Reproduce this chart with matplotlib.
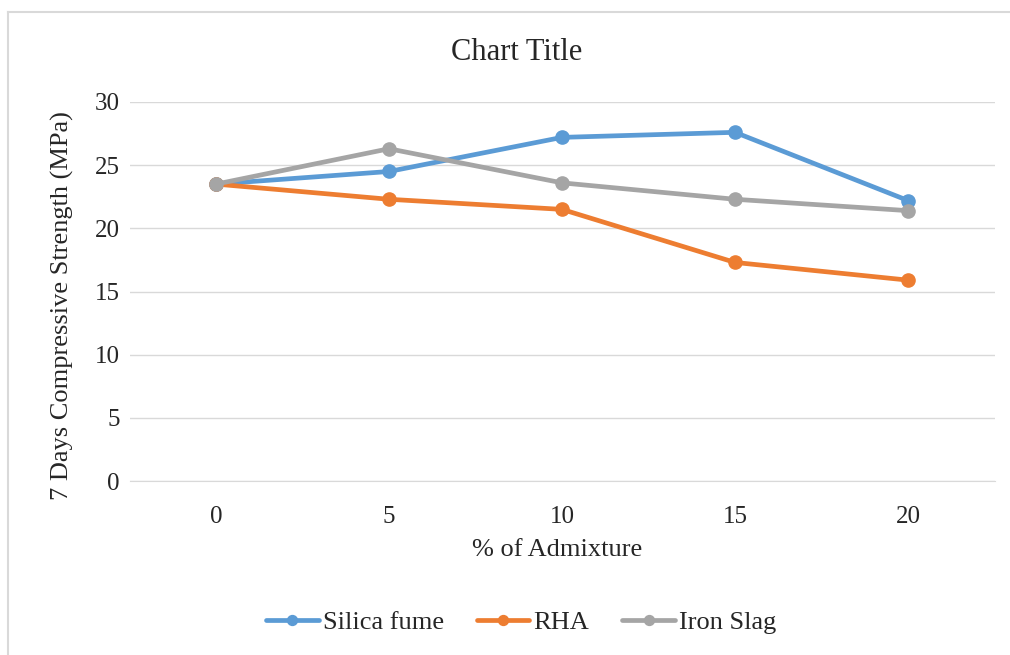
import matplotlib
matplotlib.use("Agg")
import matplotlib.pyplot as plt
from matplotlib.lines import Line2D

categories = [0, 5, 10, 15, 20]
silica_fume = [23.5, 24.5, 27.2, 27.6, 22.2]
rha = [23.5, 22.3, 21.5, 17.3, 15.9]
iron_slag = [23.5, 26.3, 23.6, 22.3, 21.4]
series_names = ["Silica fume", "RHA", "Iron Slag"]
y_ticks = [0, 5, 10, 15, 20, 25, 30]

plt.rcParams['font.family'] = ['Liberation Serif', 'DejaVu Serif']
TXT = '#262626'

fig = plt.figure(figsize=(10.10, 6.55), dpi=100)
W, H = 1010, 655

# outer chart border
fig.add_artist(Line2D([8 / W, 8 / W], [0, 1 - 12 / H], transform=fig.transFigure,
                      color='#d9d9d9', lw=1.5))
fig.add_artist(Line2D([8 / W, 1], [1 - 12 / H, 1 - 12 / H], transform=fig.transFigure,
                      color='#d9d9d9', lw=1.5))

ax = fig.add_axes([129.5 / W, 1 - 481 / H, (994.5 - 129.5) / W, (481 - 102) / H])

colors = ['#5b9bd5', '#ed7d31', '#a5a5a5']
xs = list(range(len(categories)))
for vals, name, c in zip([silica_fume, rha, iron_slag], series_names, colors):
    ax.plot(xs, vals, color=c, lw=3.4, marker='o', markersize=9.5, label=name,
            solid_capstyle='round', zorder=3)

ax.set_xlim(-0.5, len(categories) - 0.5)
ax.set_ylim(0, 30)
ax.set_yticks(y_ticks)
ax.set_xticks(xs)
ax.set_xticklabels([str(c) for c in categories])
ax.grid(axis='y', color='#d9d9d9', lw=1)
ax.set_axisbelow(True)
for s in ['top', 'right', 'left']:
    ax.spines[s].set_visible(False)
ax.spines['bottom'].set_color('#d9d9d9')
ax.tick_params(axis='both', length=0, labelsize=18, colors=TXT)
ax.tick_params(axis='y', pad=7)
ax.tick_params(axis='x', pad=18)

fig.text(517 / W, 1 - 53 / H, "Chart Title", fontsize=22, color=TXT,
         ha='center', va='center')
fig.text(557 / W, 1 - 550 / H, "% of Admixture", fontsize=19, color=TXT,
         ha='center', va='center')
fig.text(62 / W, 1 - 306 / H, "7 Days Compressive Strength (MPa)", fontsize=19,
         color=TXT, ha='center', va='center', rotation=90)

fig.legend(loc='center', bbox_to_anchor=(521 / W, 1 - 622 / H), ncol=3, frameon=False,
           fontsize=19, handlelength=2.0, columnspacing=1.25, handletextpad=0.15,
           labelcolor=TXT, markerscale=0.75)

fig.savefig("out.png", dpi=100, facecolor='white')
